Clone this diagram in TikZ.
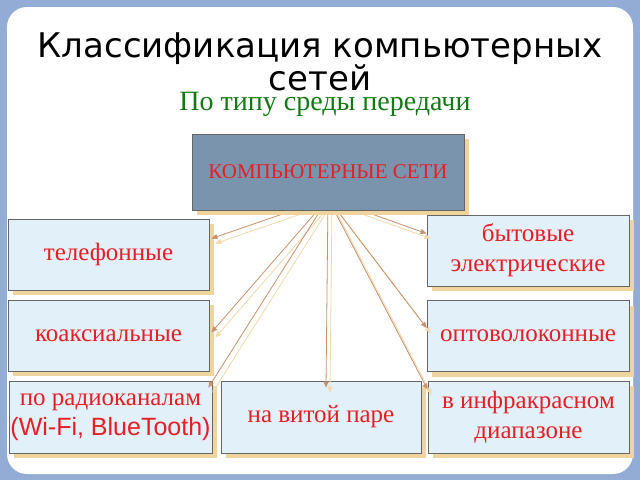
\documentclass[tikz,border=0pt]{standalone}
\usepackage{fontspec}
\setmainfont{Liberation Serif}
\setsansfont{Liberation Sans}
\newfontfamily\titlefont{DejaVu Sans}
\usetikzlibrary{arrows.meta,shadows}
\definecolor{framebg}{HTML}{93ACD6}
\definecolor{boxfill}{HTML}{E2F0FA}
\definecolor{topfill}{HTML}{7B94AE}
\definecolor{boxshade}{HTML}{F0D49E}
\definecolor{linkcol}{HTML}{C8916C}
\definecolor{linkshade}{HTML}{F2D9AA}
\definecolor{netred}{HTML}{E61E25}
\definecolor{subgreen}{HTML}{137A13}
\pgfdeclarelayer{front}
\pgfsetlayers{main,front}
\tikzset{
  netbox/.style={draw=black!60, fill=boxfill, line width=0.8pt,
    minimum width=201pt, minimum height=71pt, inner sep=1pt,
    text=netred, font=\fontsize{25}{30}\selectfont, align=center,
    drop shadow={shadow xshift=5pt, shadow yshift=-5pt, fill=boxshade, opacity=1}},
  link/.style={draw=linkcol, line width=0.8pt, -{Triangle[length=6pt,width=5pt]}},
  linkshadow/.style={link, draw=linkshade, transform canvas={shift={(4pt,-5pt)}}}
}
\begin{document}
\begin{tikzpicture}[x=1pt, y=-1pt]
  \useasboundingbox (0,0) rectangle (640,480);
  \fill[framebg] (0,0) rectangle (640,480);
  \fill[white, rounded corners=20pt] (7,7) rectangle (633,474);
  \node[font=\titlefont\fontsize{34}{33}\selectfont, align=center] (title) at (320,62)
    {Классификация компьютерных\\сетей};
  \node[text=subgreen, font=\fontsize{28}{32}\selectfont] (sub) at (325,104)
    {По типу среды передачи};
  \begin{pgfonlayer}{front}
    \node[netbox, fill=topfill, minimum width=272pt, minimum height=76pt,
      font=\fontsize{21}{25}\selectfont] (top) at (328,172) {КОМПЬЮТЕРНЫЕ СЕТИ};
  \end{pgfonlayer}
  \node[netbox] (tel) at (108.5,254.5) {телефонные};
  \node[netbox] (koax) at (108.5,335.5) {коаксиальные};
  \node[netbox, minimum width=203pt, minimum height=72pt] (radio) at (110.5,417)
    {по радиоканалам\\{\sffamily (Wi-Fi, BlueTooth)}};
  \node[netbox, minimum width=200pt, minimum height=72pt] (twist) at (321,417) {на витой паре};
  \node[netbox, minimum width=202pt] (bit) at (528,250.5) {бытовые\\электрические};
  \node[netbox, minimum width=202pt] (opto) at (528,336) {оптоволоконные};
  \node[netbox, minimum width=201pt, minimum height=72pt] (ir) at (528.5,417)
    {в инфракрасном\\диапазоне};
  \coordinate (hub) at ([yshift=12pt]top.south);
  \foreach \st in {linkshadow, link}{
    \draw[\st] (hub) -- ([xshift=2pt,yshift=16pt]tel.east);
    \draw[\st] (hub) -- ([xshift=2pt,yshift=3pt]koax.east);
    \draw[\st] (hub) -- ([xshift=-4pt,yshift=-7pt]radio.north east);
    \draw[\st] (hub) -- ([xshift=5pt,yshift=-7pt]twist.north);
    \draw[\st] (hub) -- ([yshift=17pt]bit.west);
    \draw[\st] (hub) -- ([yshift=8pt]opto.west);
    \draw[\st] (hub) -- ([yshift=-9pt]ir.north west);
  }
\end{tikzpicture}
\end{document}
